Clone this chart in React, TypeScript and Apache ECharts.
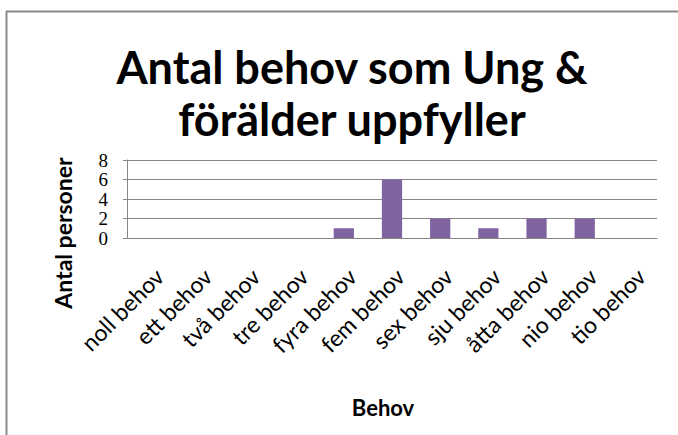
import React, { useEffect, useRef } from "react";
import * as echarts from "echarts";

const categories = [
  "noll behov",
  "ett behov",
  "två behov",
  "tre behov",
  "fyra behov",
  "fem behov",
  "sex behov",
  "sju behov",
  "åtta behov",
  "nio behov",
  "tio behov",
];
const values = [0, 0, 0, 0, 1, 6, 2, 1, 2, 2, 0];
const titleText = "Antal behov som Ung &\nförälder uppfyller";
const yAxisName = "Antal personer";
const xAxisName = "Behov";

export default function App() {
  const ref = useRef<HTMLDivElement>(null);
  useEffect(() => {
    if (!ref.current) return;
    const chart = echarts.init(ref.current, null, { renderer: "svg" });
    chart.setOption({
      animation: false,
      backgroundColor: "#ffffff",
      title: {
        text: titleText,
        left: 347,
        textAlign: "center",
        top: 36,
        textStyle: {
          fontFamily: "Lato",
          fontWeight: "bold",
          fontSize: 45,
          lineHeight: 52,
          color: "#000",
        },
      },
      graphic: [
        {
          type: "line",
          shape: { x1: 6.5, y1: 11, x2: 6.5, y2: 435 },
          style: { stroke: "#8a8a8a", lineWidth: 2 },
          silent: true,
        },
        {
          type: "line",
          shape: { x1: 6, y1: 11.5, x2: 678, y2: 11.5 },
          style: { stroke: "#8a8a8a", lineWidth: 2 },
          silent: true,
        },
        {
          type: "text",
          x: 63,
          y: 233,
          rotation: Math.PI / 2,
          style: {
            text: yAxisName,
            align: "center",
            verticalAlign: "middle",
            fontFamily: "Lato",
            fontWeight: "bold",
            fontSize: 23,
            fill: "#000",
          },
        },
      ],
      grid: { left: 127, right: 21, top: 160, bottom: 197, containLabel: false },
      xAxis: {
        type: "category",
        data: categories,
        name: xAxisName,
        nameLocation: "middle",
        nameGap: 158,
        nameTextStyle: { fontFamily: "Lato", fontWeight: "bold", fontSize: 22, color: "#000", padding: [0, 18, 0, 0] },
        axisLine: { lineStyle: { color: "#868686", width: 1 } },
        axisTick: { show: false },
        axisLabel: {
          rotate: 45,
          fontFamily: "Lato",
          fontSize: 23,
          color: "#000",
          margin: 26,
          verticalAlign: "top",
          interval: 0,
          hideOverlap: false,
        },
      },
      yAxis: {
        type: "value",
        min: 0,
        max: 8,
        interval: 2,
        axisLine: { show: true, lineStyle: { color: "#868686", width: 1 } },
        axisTick: { show: true, length: 4, lineStyle: { color: "#868686" } },
        splitLine: { lineStyle: { color: "#868686", width: 1 } },
        axisLabel: {
          fontFamily: "Liberation Serif",
          fontSize: 19,
          lineHeight: 12,
          color: "#000",
          margin: 19,
          interval: 0,
          hideOverlap: false,
          showMinLabel: true,
          showMaxLabel: true,
        },
      },
      series: [
        {
          type: "bar",
          data: values,
          barWidth: "42%",
          itemStyle: { color: "#8064A2" },
        },
      ],
    });
    return () => chart.dispose();
  }, []);
  return (
    <div
      ref={ref}
      style={{ position: "absolute", left: 0, top: 0, width: 678, height: 435 }}
    />
  );
}
